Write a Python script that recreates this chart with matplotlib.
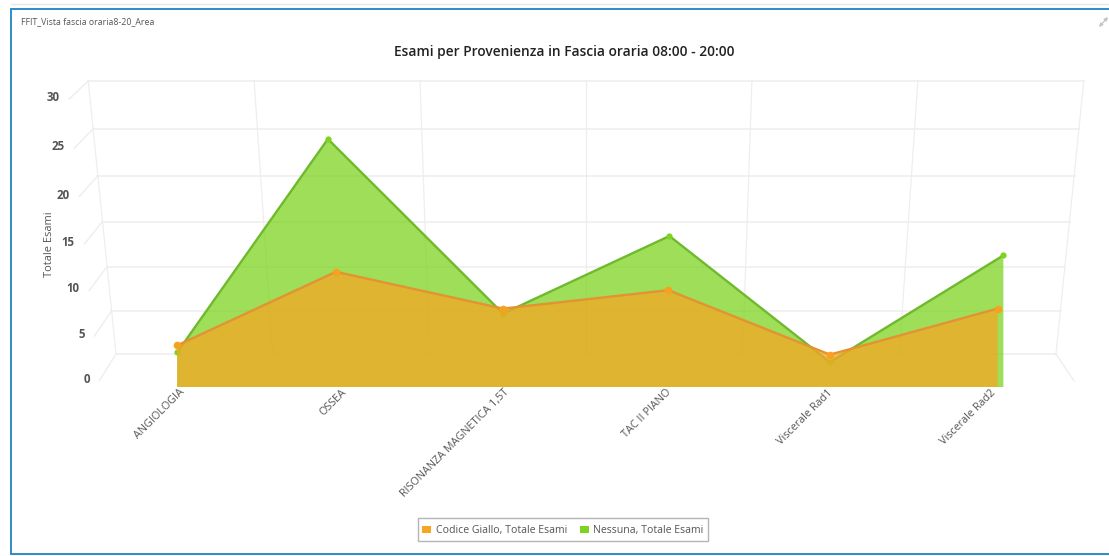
import matplotlib
matplotlib.use("Agg")
import matplotlib.pyplot as plt
from matplotlib.patches import Patch, Polygon

categories = ["ANGIOLOGIA", "OSSEA", "RISONANZA MAGNETICA 1,5T", "TAC II PIANO", "Viscerale Rad1", "Viscerale Rad2"]
giallo = [3, 11, 7, 9, 2, 7]
nessuna = [3, 25, 7, 15, 2, 13]
y_ticks = [0, 5, 10, 15, 20, 25, 30]

plt.rcParams["font.family"] = ["Open Sans", "DejaVu Sans"]
W, H = 1109, 556
fig = plt.figure(figsize=(W / 100, H / 100), dpi=100)
ax = fig.add_axes([0, 0, 1, 1])
ax.set_xlim(0, W)
ax.set_ylim(H, 0)
ax.axis("off")

CX = 586
n = len(categories)


# Small perspective projection of (category index, value) to pixels
def px(i, v):
    return CX + (-406 + 162.2 * i) * (1 + 0.00235 * v)


def py(v, a, b):
    return a - b * v


def wall_y(v):
    return 354 - 8.5 * v - 0.02 * v * v


def wall_x(u, v):
    return CX + u * (1 + 0.00197 * v)


def front_y(v):
    return 380.7 - 8.84 * v - 0.0184 * v * v


GRID = "#eeeeee"
vmax = max(y_ticks)
for v in y_ticks:
    y = wall_y(v)
    ax.plot([wall_x(-470, v), wall_x(470, v)], [y, y], color=GRID, lw=1.1, zorder=1)
    x2 = 99.3 - 1.0 * v
    y2 = front_y(v)
    ax.plot([wall_x(-470, v), x2], [y, y2], color=GRID, lw=1.0, zorder=1)
    ax.text(x2 - 9.5, y2 - 1.5, str(v), ha="right", va="center", fontsize=8.3,
            color="#555555", fontweight="bold", zorder=6)
ax.plot([wall_x(470, 0), 1074], [wall_y(0), 380.7], color=GRID, lw=1.0, zorder=1)
for j in range(7):
    u = -470 + j * 940 / 6
    ax.plot([wall_x(u, 0), wall_x(u, vmax)], [wall_y(0), wall_y(vmax)], color=GRID, lw=0.9, zorder=1)


def series(values, a, b, fill, line, marker, ms, z):
    xs = [px(i, v) for i, v in enumerate(values)]
    ys = [py(v, a, b) for v in values]
    pts = list(zip(xs, ys)) + [(xs[-1], 387), (xs[0], 387)]
    ax.add_patch(Polygon(pts, closed=True, facecolor=fill, edgecolor="none", alpha=0.75, zorder=z))
    ax.plot(xs, ys, color=line, lw=1.7, zorder=z + 0.1, solid_joinstyle="miter")
    ax.plot(xs, ys, ls="none", marker="o", ms=ms, color=marker, mec="none", zorder=z + 0.2)


series(nessuna, 381.5, 9.7, "#7ED321", "#6FBA2C", "#7ED321", 4.5, 2)
series(giallo, 373, 9.2, "#F5A623", "#E39332", "#F8A020", 5.5, 3)

for i, c in enumerate(categories):
    ax.text(px(i, 0) - 1, 387, c, rotation=45, rotation_mode="anchor", ha="right", va="top",
            fontsize=7.8, color="#555555", zorder=6)

ax.text(564.5, 52, "Esami per Provenienza in Fascia oraria 08:00 - 20:00", ha="center", va="center",
        fontsize=9.92, fontweight="semibold", color="#222222")
ax.text(49, 244, "Totale Esami", rotation=90, ha="center", va="center", fontsize=7.9, color="#555555")
ax.text(21, 21.5, "FFIT_Vista fascia oraria8-20_Area", ha="left", va="center", fontsize=6.3, color="#555555")

# Panel frame
ax.plot([W, 11, 11, W], [9, 9, 554, 554], color="#1F82C4", lw=1.3, zorder=8, solid_joinstyle="miter")
ax.plot([11, W], [4, 4], color="#e6e6e6", lw=1.0, zorder=8)
ax.annotate("", xy=(1108, 17), xytext=(1099, 27), annotation_clip=False,
            arrowprops=dict(arrowstyle="<|-|>", color="#c4c4c4", lw=0.9, mutation_scale=5,
                            shrinkA=0, shrinkB=0))

handles = [Patch(facecolor="#F5A623", edgecolor="none", label="Codice Giallo, Totale Esami"),
           Patch(facecolor="#7ED321", edgecolor="none", label="Nessuna, Totale Esami")]
leg = ax.legend(handles=handles, loc="center", bbox_to_anchor=(563 / W, 1 - 529.5 / H), ncol=2,
                fontsize=7.55, frameon=True, fancybox=False, edgecolor="#b5b5b5",
                handlelength=0.85, handleheight=1.6, handletextpad=0.45, columnspacing=1.2,
                borderpad=0.42, labelcolor="#555555", framealpha=1)
leg.get_frame().set_linewidth(1.0)
for p in leg.get_patches():
    full = p.get_height()
    p.set_height(full * 0.56)
    p.set_y(p.get_y() + full * 0.22)

fig.savefig("out.png", dpi=100)
